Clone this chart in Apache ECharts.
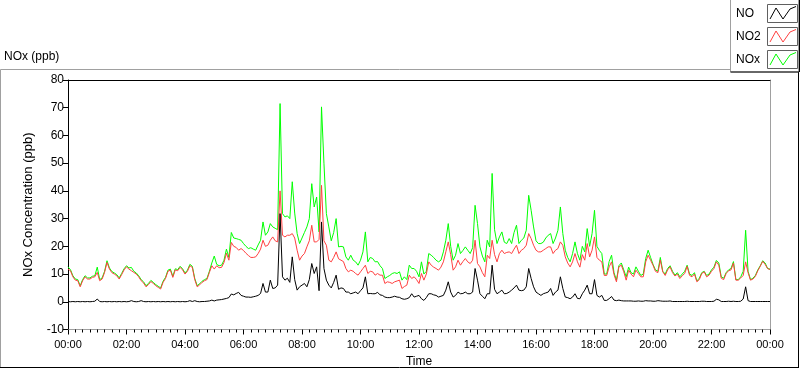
<!DOCTYPE html>
<html>
<head>
<meta charset="utf-8">
<script src="https://cdn.jsdelivr.net/npm/echarts@6/dist/echarts.min.js"></script>
<style>
html,body{margin:0;padding:0;background:#fff;}
#chart{width:800px;height:369px;}
</style>
</head>
<body>
<div id="chart"></div>
<script>
// ---- data (5-minute readings, 00:00 .. 24:00) ----
const STEP_MIN = 5;
const tickLabels = ['00:00','02:00','04:00','06:00','08:00','10:00','12:00','14:00','16:00','18:00','20:00','22:00','00:00'];
const seriesNames = ['NO', 'NO2', 'NOx'];

const no = [
  0.1,0.0,0.1,0.0,0.1,0.0,0.1,0.0,0.1,0.0,0.1,0.2,
  1.0,0.1,0.0,0.1,0.0,0.1,0.0,0.1,0.0,0.1,0.0,0.1,
  0.0,0.1,0.4,0.1,0.0,0.1,0.4,0.1,0.0,0.1,0.0,0.1,
  0.0,0.1,0.0,0.1,0.0,0.1,0.0,0.1,0.0,0.1,0.0,0.1,
  0.0,0.1,0.4,0.1,0.4,0.1,0.0,0.1,0.1,0.2,0.3,0.6,
  0.3,0.6,0.7,0.8,1.0,1.2,1.5,2.8,2.5,3.0,3.4,
  2.3,2.0,1.7,1.7,1.6,1.8,2.0,2.3,3.0,6.6,3.5,3.5,
  7.8,4.8,5.0,6.0,31.8,9.0,7.8,8.5,7.0,16.2,8.0,4.2,
  5.4,6.0,6.6,5.4,8.0,13.8,10.2,12.6,4.0,28.8,12.0,7.8,
  6.0,5.0,7.0,9.6,4.5,5.0,4.8,3.5,3.5,2.9,3.2,3.5,
  2.9,4.0,5.0,9.0,2.9,3.0,2.9,2.9,3.4,2.5,2.3,1.7,
  1.5,1.5,1.7,2.0,1.7,1.6,1.1,0.9,1.1,1.5,2.9,1.7,
  2.0,2.3,1.1,0.5,1.5,2.9,2.9,2.5,2.3,1.7,2.0,2.3,
  4.2,7.2,3.5,1.7,2.3,3.5,2.9,3.0,3.5,2.9,2.9,3.5,
  12.0,7.8,2.9,2.0,1.1,2.9,2.9,13.2,4.5,2.9,3.5,4.2,
  2.9,3.0,3.5,4.2,5.0,6.0,4.2,4.0,4.2,5.4,12.0,8.4,
  5.4,3.5,2.9,2.3,2.9,3.2,3.5,4.8,2.3,3.5,4.2,9.0,
  4.8,1.7,1.5,1.1,1.7,2.9,1.2,1.1,2.9,4.2,6.0,2.9,
  2.9,8.0,2.3,1.7,2.3,0.5,0.5,1.1,1.9,0.6,0.4,0.6,
  0.4,0.3,0.3,0.3,0.3,0.2,0.2,0.3,0.2,0.2,0.4,0.3,
  0.3,0.2,0.2,0.4,0.3,0.2,0.2,0.2,0.3,0.1,0.1,0.1,
  0.1,0.1,0.1,0.2,0.1,0.1,0.1,0.1,0.1,0.2,0.2,0.1,
  0.1,0.1,0.2,0.9,0.7,0.1,0.1,0.1,0.2,0.1,0.2,0.1,
  0.1,0.2,1.0,5.4,0.4,0.1,0.1,0.1,0.1,0.1,0.1,0.1,
  0.1,0.1
];

const no2 = [
  11.8,11.2,9.0,7.8,7.6,5.4,7.6,9.0,8.2,8.2,8.8,9.0,
  10.6,7.6,8.2,10.6,14.2,11.8,10.5,10.0,9.4,8.2,9.8,11.5,
  12.6,11.8,11.2,10.6,10.0,9.0,7.6,6.8,5.4,6.2,7.3,6.6,
  5.8,5.2,4.6,7.0,8.4,11.0,11.4,8.8,11.5,11.2,12.4,11.5,
  10.0,11.0,13.0,12.4,8.0,5.4,6.1,7.0,7.6,8.0,10.6,13.0,
  11.8,13.0,12.3,12.4,14.2,17.5,15.0,21.4,20.0,19.6,18.6,
  19.2,18.5,17.5,16.7,16.0,16.0,16.2,17.4,19.0,22.2,20.0,20.4,
  22.2,23.4,22.0,21.6,40.0,24.0,23.4,24.0,24.0,24.6,23.0,18.6,
  15.0,16.5,17.4,19.8,22.0,27.6,21.6,21.6,22.5,42.0,22.0,20.4,
  15.0,14.4,16.0,18.0,15.5,15.0,14.5,12.0,10.8,11.4,11.0,10.2,
  9.6,10.8,12.0,13.2,10.2,11.0,10.8,9.6,10.2,9.6,9.6,6.6,
  7.2,7.0,6.6,7.2,7.5,7.8,4.8,5.5,6.0,9.6,8.4,9.0,
  8.0,6.6,10.2,7.8,10.0,14.4,13.2,12.5,12.0,11.4,12.5,14.4,
  18.0,21.6,17.0,11.4,12.6,15.0,13.2,14.5,15.6,14.4,13.8,15.0,
  22.2,13.8,12.6,10.5,9.0,16.8,15.6,22.2,17.0,14.4,17.4,18.6,
  17.4,17.8,18.0,17.4,19.0,20.4,17.4,18.6,19.2,20.4,24.6,22.8,
  20.4,18.6,18.0,18.0,18.6,19.2,19.8,19.8,17.4,18.6,19.2,21.6,
  20.4,16.2,14.0,12.6,14.4,17.4,14.4,12.5,17.0,15.0,21.0,16.2,
  18.6,23.4,16.0,15.0,14.4,9.5,9.5,12.6,14.4,9.8,7.2,12.6,
  13.2,10.8,7.8,11.4,10.0,9.0,11.4,10.2,9.0,9.0,14.4,16.8,
  15.0,13.2,11.0,10.5,15.0,10.8,9.5,11.5,12.6,10.5,9.3,10.0,
  8.4,9.4,10.2,12.8,9.5,9.0,10.0,7.2,8.0,10.2,10.8,9.0,
  9.6,11.0,12.0,14.4,13.2,8.5,8.0,10.2,11.2,11.5,14.0,7.8,
  7.8,8.6,9.5,14.4,10.5,7.8,8.2,9.2,11.2,12.8,14.6,13.5,
  12.0,11.6
];

const nox = [
  12.6,11.6,9.4,8.2,8.0,5.8,8.0,9.4,8.6,8.6,9.2,9.4,
  12.5,8.0,8.6,11.0,14.8,12.2,10.9,10.4,9.8,8.6,10.2,11.9,
  13.0,12.2,12.4,11.0,10.4,9.4,8.0,7.2,5.8,6.6,7.7,7.0,
  6.2,5.6,5.0,7.4,8.8,11.4,11.8,9.2,11.9,11.6,12.8,11.9,
  10.4,11.4,13.5,12.8,8.4,5.8,6.5,7.4,8.0,8.4,11.0,14.0,
  16.5,13.5,13.0,13.2,15.0,19.0,16.0,25.0,23.0,22.8,22.5,
  22.2,21.0,20.0,19.2,19.5,19.0,18.6,20.5,22.2,28.8,24.0,25.2,
  28.2,27.0,26.5,26.0,71.5,31.8,30.6,31.0,30.0,43.3,32.0,24.6,
  21.0,23.0,25.0,27.0,30.0,42.6,34.2,37.8,25.2,70.3,50.0,31.8,
  27.0,22.0,25.0,30.0,19.8,20.0,19.8,16.2,15.0,16.8,15.0,14.4,
  13.2,15.0,18.0,25.2,14.4,16.0,15.6,14.4,14.5,13.0,12.0,8.4,
  9.0,9.5,10.2,10.5,10.2,10.8,7.8,9.0,8.0,13.2,12.0,12.0,
  11.0,9.0,14.4,10.0,11.0,17.4,16.8,16.0,15.0,14.4,15.0,18.0,
  22.2,28.2,20.0,15.0,16.8,21.0,17.4,18.5,19.8,18.6,17.4,19.5,
  34.8,28.2,19.8,16.5,14.4,22.2,19.8,46.3,26.0,21.0,23.4,25.2,
  21.5,21.0,22.8,21.0,25.0,27.6,21.0,22.2,23.0,25.8,38.4,33.0,
  27.0,22.0,21.0,21.0,21.5,23.0,24.0,24.6,21.0,23.0,25.8,34.2,
  24.6,18.6,16.0,14.4,17.4,21.6,17.4,15.0,20.0,18.0,26.4,20.0,
  24.6,33.0,20.0,18.5,17.4,10.0,10.0,14.5,16.8,10.5,7.8,13.0,
  14.0,11.5,9.0,12.5,10.5,10.0,12.6,11.0,9.5,10.0,15.6,18.6,
  16.0,13.5,11.5,11.0,16.0,11.0,10.0,12.0,13.0,11.0,9.6,10.5,
  9.0,10.0,11.0,13.2,10.0,9.5,10.5,7.5,8.5,10.5,11.0,9.5,
  10.0,11.5,12.5,14.9,14.0,9.0,8.5,10.5,11.5,12.0,14.5,8.0,
  8.0,9.0,11.0,25.8,11.0,8.0,8.5,9.5,11.5,13.0,14.8,14.0,
  12.0,11.8
];

// ---- chart ----
const FONT = 'Liberation Sans, Arial, sans-serif';
const toPairs = arr => arr.map((v, i) => [i * STEP_MIN, v]);
const fmt = v => tickLabels[Math.round(v / 120)] || '';

const chart = echarts.init(document.getElementById('chart'), null, {renderer: 'canvas'});

const legendColors = {NO: '#000000', NO2: '#ff4040', NOx: '#00ff00'};
const legendGraphics = [];
seriesNames.forEach((name, i) => {
  const y0 = 4 + i * 23;
  legendGraphics.push({
    type: 'text', left: 736, top: y0 + 4,
    style: {text: name, font: '12px ' + FONT, fill: '#000'}, z: 101
  });
  legendGraphics.push({
    type: 'rect', shape: {x: 767.5, y: y0 + 0.5, width: 30, height: 18},
    style: {fill: '#fff', stroke: '#606060', lineWidth: 1}, z: 101
  });
  legendGraphics.push({
    type: 'polyline',
    shape: {points: [[770, y0 + 15], [776, y0 + 4], [783, y0 + 15], [790, y0 + 5], [796, y0 + 2.5]]},
    style: {stroke: legendColors[name], lineWidth: 1, fill: null}, z: 102
  });
});

const option = {
  animation: false,
  backgroundColor: '#ffffff',
  grid: {left: 68, top: 80, width: 702, height: 249.5, containLabel: false, outerBoundsMode: 'none'},
  xAxis: [{
    type: 'value', min: 0, max: 1440, interval: 120,
    name: 'Time', nameLocation: 'middle', nameGap: 25,
    nameTextStyle: {fontFamily: FONT, fontSize: 12, color: '#000'},
    axisLine: {show: true, onZero: false, lineStyle: {color: '#a0a0a0', width: 1}},
    axisTick: {show: true, inside: false, length: 5, lineStyle: {color: '#000'}},
    minorTick: {show: true, splitNumber: 8, length: 3, lineStyle: {color: '#000'}},
    axisLabel: {formatter: fmt, fontFamily: FONT, fontSize: 11, color: '#000', margin: 10},
    splitLine: {show: false}, minorSplitLine: {show: false}
  }, {
    type: 'value', min: 0, max: 1440, position: 'top',
    axisLine: {show: true, onZero: false, lineStyle: {color: '#000', width: 1}},
    axisTick: {show: false}, axisLabel: {show: false}, splitLine: {show: false}
  }],
  yAxis: [{
    type: 'value', min: -10, max: 80, interval: 10,
    name: 'NOx Concentration (ppb)', nameLocation: 'middle', nameGap: 33, nameRotate: 90,
    nameTextStyle: {fontFamily: FONT, fontSize: 13, color: '#000'},
    axisLine: {show: true, onZero: false, lineStyle: {color: '#000', width: 1}},
    axisTick: {show: true, inside: false, length: 5, lineStyle: {color: '#000'}},
    axisLabel: {fontFamily: FONT, fontSize: 12, color: '#000', margin: 4},
    splitLine: {show: false}
  }, {
    type: 'value', min: -10, max: 80, position: 'right',
    axisLine: {show: true, onZero: false, lineStyle: {color: '#a0a0a0', width: 1}},
    axisTick: {show: false}, axisLabel: {show: false}, splitLine: {show: false}
  }],
  graphic: [
    // outer panel frame
    {type: 'line', shape: {x1: 0.5, y1: 69.5, x2: 799, y2: 69.5}, style: {stroke: '#a0a0a0'}, z: 50},
    {type: 'line', shape: {x1: 0.5, y1: 69.5, x2: 0.5, y2: 368}, style: {stroke: '#a0a0a0'}, z: 50},
    {type: 'line', shape: {x1: 0, y1: 367.5, x2: 799, y2: 367.5}, style: {stroke: '#000'}, z: 50},
    {type: 'line', shape: {x1: 798.5, y1: 69.5, x2: 798.5, y2: 368}, style: {stroke: '#000'}, z: 50},
    // plot caption
    {type: 'text', left: 4, top: 51, style: {text: 'NOx (ppb)', font: '12px ' + FONT, fill: '#000'}, z: 50},
    // legend box
    {type: 'rect', shape: {x: 730.5, y: -1, width: 68, height: 73},
      style: {fill: '#fff', stroke: '#a0a0a0', lineWidth: 1}, z: 100},
    {type: 'line', shape: {x1: 730.5, y1: 72, x2: 799, y2: 72}, style: {stroke: '#000'}, z: 100},
    {type: 'line', shape: {x1: 799.5, y1: 0, x2: 799.5, y2: 72}, style: {stroke: '#000'}, z: 100}
  ].concat(legendGraphics),
  series: [
    {name: 'NOx', type: 'line', data: toPairs(nox), showSymbol: false, symbol: 'none',
      lineStyle: {color: '#00ff00', width: 1}, itemStyle: {color: '#00ff00'}, z: 2},
    {name: 'NO2', type: 'line', data: toPairs(no2), showSymbol: false, symbol: 'none',
      lineStyle: {color: '#ff4040', width: 1}, itemStyle: {color: '#ff4040'}, z: 3},
    {name: 'NO', type: 'line', data: toPairs(no), showSymbol: false, symbol: 'none',
      lineStyle: {color: '#000000', width: 1}, itemStyle: {color: '#000000'}, z: 4}
  ]
};
chart.setOption(option);
</script>
</body>
</html>
